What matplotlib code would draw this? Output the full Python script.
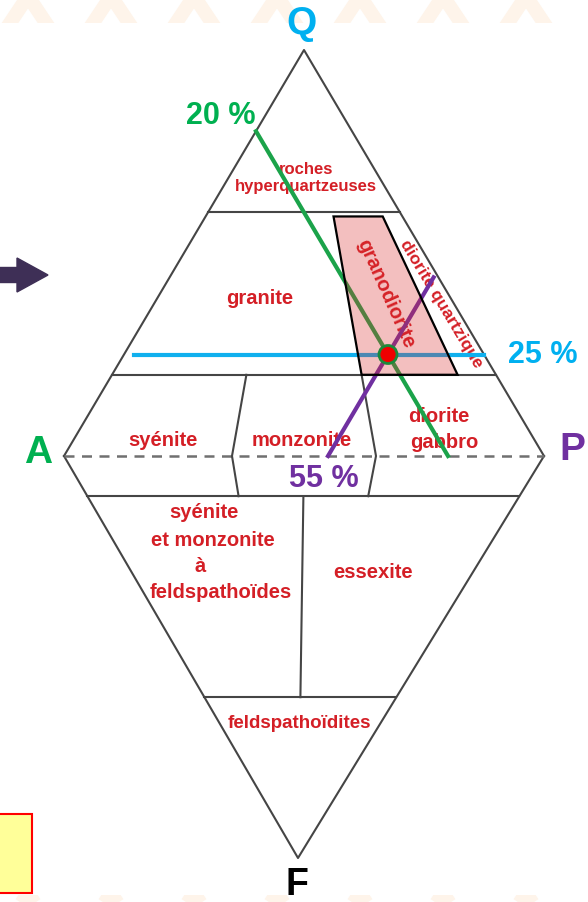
import numpy as np
import matplotlib.pyplot as plt
from matplotlib.patches import Polygon, Circle, FancyArrow, Rectangle

plt.rcParams['font.family'] = ['Liberation Sans', 'DejaVu Sans']

# QAPF diagram, all values in percent
q_bands = [60, 20]            # Q limits of the bands in the upper triangle
f_bands = [10, 60]            # F limits of the bands in the lower triangle
split_upper = [35, 65]        # 100*P/(A+P) splits around the A-P line
split_lower = [50]            # 100*P/(A+P) split in the feldspathoid band
granodiorite = [65, 90]       # 100*P/(A+P) limits of the granodiorite field

# sample: Q = 25 %, A = 20 %, P = 55 %
sample_q, sample_a, sample_p = 25, 20, 55
green_q = [80, 0]             # A = 20 % line, Q from 80 to 0
purple_q = [0, 44]            # P = 55 % line, Q from 0 to 44
blue_p = [2, 75]              # Q = 25 % line, P from 2 to 75

# diagram corners (pixel space of the figure)
V = {'Q': (304, 50), 'A': (64, 456), 'P': (544, 456), 'F': (298, 858)}


def tern(a, p, apex='Q'):
    w = 100 - a - p
    x = (a * V['A'][0] + p * V['P'][0] + w * V[apex][0]) / 100
    y = (a * V['A'][1] + p * V['P'][1] + w * V[apex][1]) / 100
    return x, y


def split_pt(w, r, apex='Q'):
    s = 100 - w
    return tern(s * (100 - r) / 100, s * r / 100, apex)


fig = plt.figure(figsize=(5.88, 9.02), dpi=100)
ax = fig.add_axes([0, 0, 1, 1])
ax.set_xlim(0, 588)
ax.set_ylim(902, 0)
ax.axis('off')

# faint decorative arches top and bottom
for yb, (y0, y1) in [(-4, (0, 23)), (893, (895, 902))]:
    clip = Rectangle((0, y0), 588, y1 - y0, transform=ax.transData)
    for cx in np.arange(28, 600, 83):
        ln, = ax.plot([cx - 30, cx, cx + 30], [yb + 45, yb, yb + 45],
                      color='#fef4ea', lw=10, solid_capstyle='butt', zorder=0)
        ln.set_clip_path(clip)

gray = '#454545'
lw = 1.5

# outline
ax.plot(*zip(V['A'], V['Q'], V['P']), color=gray, lw=lw, zorder=2)
ax.plot(*zip(V['A'], V['F'], V['P']), color=gray, lw=lw, zorder=2)
ax.plot(*zip(V['A'], V['P']), color='#707070', lw=1.8,
        linestyle=(0, (4, 3)), zorder=2)

for q in q_bands:
    ax.plot(*zip(tern(100 - q, 0), tern(0, 100 - q)), color=gray, lw=lw, zorder=2)
for f in f_bands:
    ax.plot(*zip(tern(100 - f, 0, 'F'), tern(0, 100 - f, 'F')), color=gray, lw=lw, zorder=2)

for r in split_upper:
    pts = [split_pt(q_bands[1], r), split_pt(0, r), split_pt(f_bands[0], r, 'F')]
    ax.plot(*zip(*pts), color=gray, lw=lw, zorder=2)
for r in split_lower:
    pts = [split_pt(f_bands[0], r, 'F'), split_pt(f_bands[1], r, 'F')]
    ax.plot(*zip(*pts), color=gray, lw=lw, zorder=2)

# granodiorite field
trap = [split_pt(q_bands[0] - 1, granodiorite[0]), split_pt(q_bands[0] - 1, granodiorite[1]),
        split_pt(q_bands[1], granodiorite[1]), split_pt(q_bands[1], granodiorite[0])]
ax.add_patch(Polygon(trap, closed=True, fc='#da2d2d', alpha=0.3, ec='none', zorder=4.5))
ax.add_patch(Polygon(trap, closed=True, fc='none', ec='black', lw=1.6, zorder=4.6))

# field names
red = '#d41f26'
labels = [
    ('roches\nhyperquartzeuses', 306, 178, 12, 0),
    ('granite', 260, 299, 14.5, 0),
    ('granodiorite', 386, 294, 14.5, -66),
    ('diorite quartzique', 441, 304, 12.5, -59),
    ('syénite', 163, 441, 14.5, 0),
    ('monzonite', 302, 441, 14.5, 0),
    ('diorite', 439, 416, 14.5, 0),
    ('gabbro', 444, 443, 14.5, 0),
    ('syénite', 204, 513, 14.5, 0),
    ('et monzonite', 213, 540, 14.5, 0),
    ('à', 200, 567, 14.5, 0),
    ('feldspathoïdes', 221, 593, 14.5, 0),
    ('essexite', 373, 572, 14.5, 0),
    ('feldspathoïdites', 299, 723, 13.5, 0),
]
for txt, x, y, fs, rot in labels:
    ax.text(x, y, txt, color=red, fontsize=fs, fontweight='bold', rotation=rot,
            ha='center', va='center', linespacing=1.1, zorder=3,
            rotation_mode='anchor')

# reading lines
green, blue, purple = '#1ba34a', '#10b0ee', '#7030a0'
g = [tern(sample_a, 100 - sample_a - q) for q in green_q]
ax.plot(*zip(*g), color=green, lw=3, zorder=4)
b = [tern(100 - sample_q - p, p) for p in blue_p]
ax.plot(*zip(*b), color=blue, lw=3, zorder=4)
pu = [tern(100 - sample_p - q, sample_p) for q in purple_q]
ax.plot(*zip(*pu), color=purple, lw=3, zorder=4)

ax.add_patch(Circle(tern(sample_a, sample_p), 9, fc='#ee0000', ec='#1a8a3a',
                    lw=2, zorder=6))

# percentages and corner letters
ax.text(221, 116, f'{sample_a} %', color='#00b050',
        fontsize=22, fontweight='bold', ha='center', va='center')
ax.text(543, 355, f'{sample_q} %', color='#00b0f0', fontsize=22,
        fontweight='bold', ha='center', va='center')
ax.text(324, 479, f'{sample_p} %', color=purple, fontsize=22,
        fontweight='bold', ha='center', va='center')
ax.text(302, 24, 'Q', color='#00b0f0', fontsize=28, fontweight='bold',
        ha='center', va='center')
ax.text(38, 453, 'A', color='#00b050', fontsize=28, fontweight='bold',
        ha='center', va='center')
ax.text(572, 450, 'P', color=purple, fontsize=28, fontweight='bold',
        ha='center', va='center')
ax.text(297, 885, 'F', color='black', fontsize=27, fontweight='bold',
        ha='center', va='center')

# side decorations
ax.add_patch(FancyArrow(-2, 275, 50, 0, width=15, head_width=34, head_length=31,
                        length_includes_head=True, color='#3e2f56', zorder=3))
ax.add_patch(Rectangle((-3, 814), 35, 79, fc='#ffff99', ec='#ff0000', lw=1.5, zorder=3))

fig.savefig('out.png', dpi=100)
